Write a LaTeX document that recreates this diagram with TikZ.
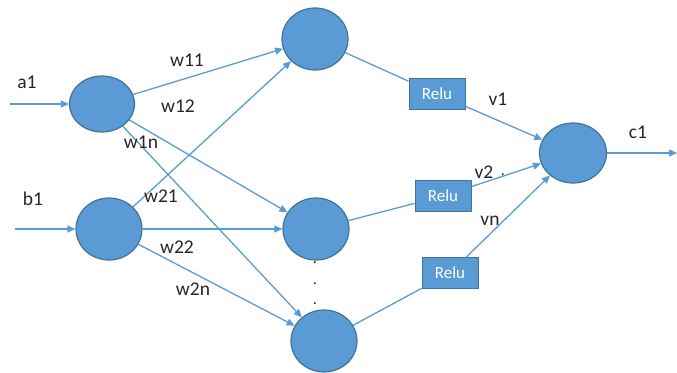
\documentclass[tikz,border=0pt]{standalone}
\usepackage{fontspec}
\setmainfont{Carlito}
\usetikzlibrary{shapes.geometric,arrows.meta}
\definecolor{nodefill}{HTML}{5B9BD5}
\definecolor{nodeedge}{HTML}{41719C}
\definecolor{wire}{HTML}{5B9BD5}
\definecolor{labeltext}{HTML}{262626}
\tikzset{
  neuron/.style={ellipse, fill=nodefill, draw=nodeedge, line width=1.2pt,
    minimum width=66pt, minimum height=62pt, inner sep=0pt},
  relubox/.style={rectangle, fill=nodefill, draw=nodeedge, line width=1pt,
    minimum width=56pt, minimum height=31pt, inner sep=0pt,
    text=white, font=\fontsize{17}{17}\selectfont},
  wire/.style={draw=wire, line width=1.3pt},
  feed/.style={wire, -{Triangle[length=8pt,width=7pt]}},
  wlabel/.style={text=labeltext, font=\fontsize{19.5}{19.5}\selectfont, inner sep=0pt},
  dotmark/.style={text=labeltext, font=\fontsize{16}{16}\selectfont, inner sep=0pt}
}
\begin{document}
\begin{tikzpicture}[x=1pt,y=-1pt]
\useasboundingbox (0,0) rectangle (677,372);

% input neurons
\node[neuron, minimum width=65pt, minimum height=56pt] (a1) at (102,104) {};
\node[neuron] (b1) at (109,229) {};

% hidden neurons
\node[neuron] (h1) at (315,39) {};
\node[neuron] (h2) at (316,229) {};
\node[neuron] (h3) at (324,341) {};

% output neuron
\node[neuron, minimum width=67pt, minimum height=60pt] (c) at (573,153) {};

% activation boxes
\node[relubox] (r1) at (437,94) {Relu};
\node[relubox] (r2) at (443,196) {Relu};
\node[relubox] (r3) at (450,273) {Relu};

% free ends of the input and output wires
\coordinate (ina) at (10,104);
\coordinate (inb) at (15,229);
\coordinate (outc) at (677,153);

% inputs
\draw[feed] (ina) -- (a1);
\draw[feed] (inb) -- (b1);

% first layer weights
\draw[feed] (a1) -- (h1);
\draw[feed] (a1) -- (h2);
\draw[feed] (a1) -- (h3);
\draw[feed] (b1) -- (h1);
\draw[feed] (b1) -- (h2);
\draw[feed] (b1) -- (h3);

% hidden neurons into activations
\draw[wire] (h1) -- (r1);
\draw[wire] (h2) -- (r2);
\draw[wire] (h3) -- (r3);

% activations into the output neuron
\draw[feed] (r1) -- (c);
\draw[feed] (r2) -- (c);
\draw[feed] (r3) -- (c);
\draw[feed] (c) -- (outc);

% labels
\node[wlabel] (la) at (27,82) {a1};
\node[wlabel] (lb) at (33,199) {b1};
\node[wlabel] (l11) at (187,60) {w11};
\node[wlabel] (l12) at (178,106) {w12};
\node[wlabel] (l1n) at (141,142) {w1n};
\node[wlabel] (l21) at (161,196) {w21};
\node[wlabel] (l22) at (177,247) {w22};
\node[wlabel] (l2n) at (193,289) {w2n};
\node[wlabel] (lv1) at (498,99) {v1};
\node[wlabel] (lv2) at (484,172) {v2};
\node[dotmark] (lv2d) at (503,175) {.};
\node[wlabel] (lvn) at (490,221) {vn};
\node[wlabel] (lc) at (638,132) {c1};

% ellipsis between hidden neurons
\node[dotmark] (d1) at (315,263) {.};
\node[dotmark] (d2) at (315,284) {.};
\node[dotmark] (d3) at (315,304) {.};
\end{tikzpicture}
\end{document}
